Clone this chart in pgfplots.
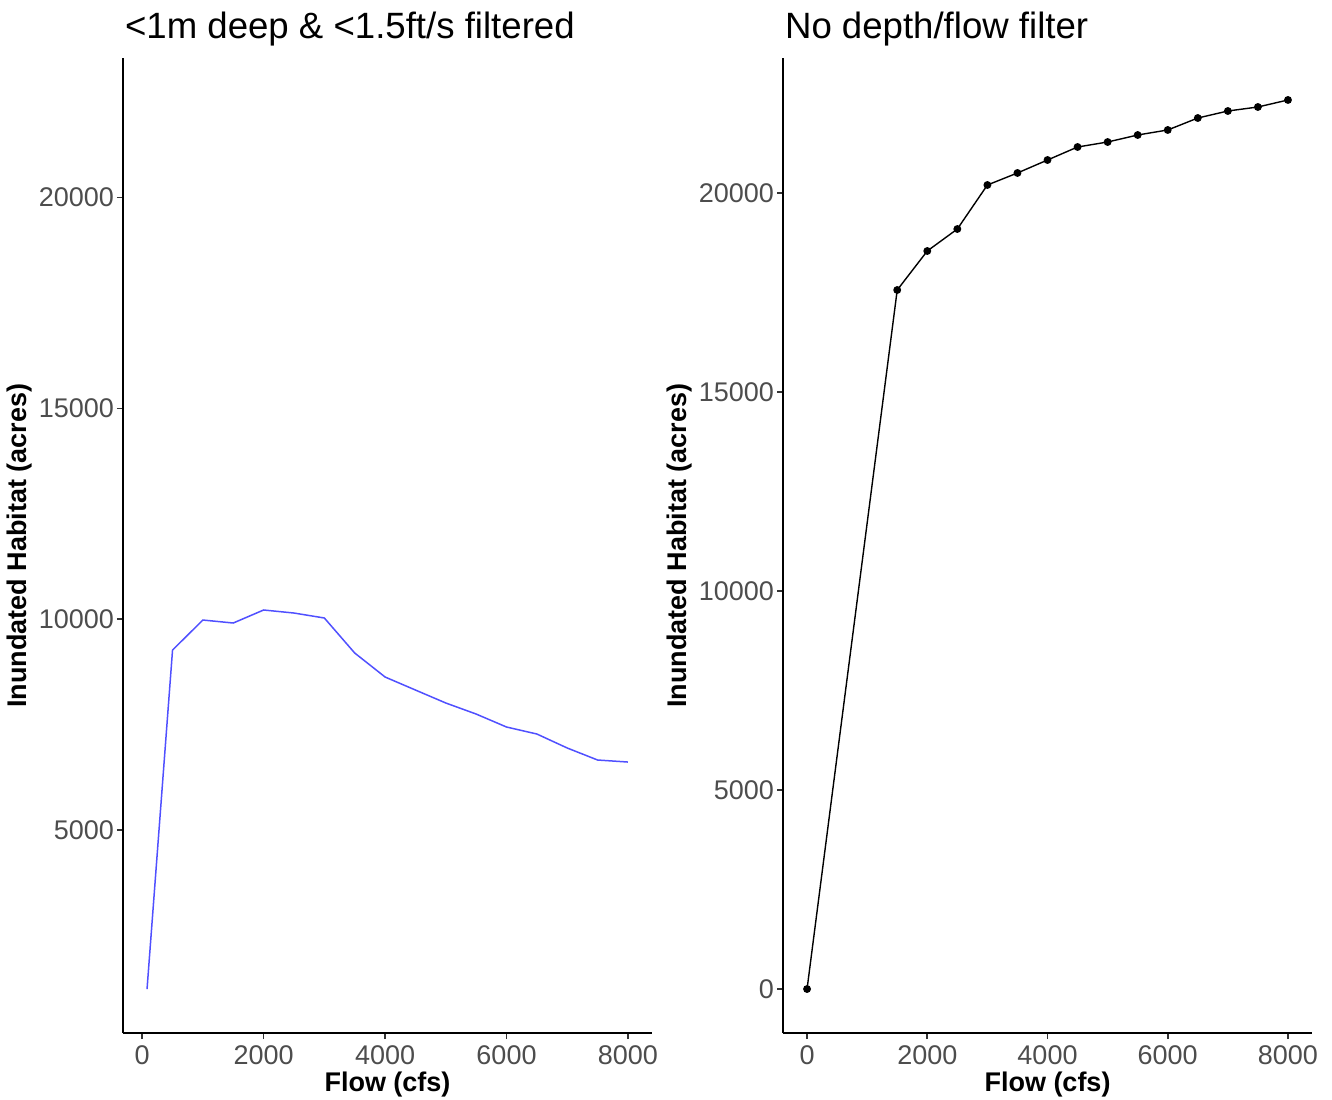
\documentclass[border=0pt]{standalone}
\usepackage{pgfplots}
\pgfplotsset{compat=1.18}
\usepackage{fontspec}
\setmainfont{Liberation Sans}
\definecolor{ticklab}{HTML}{4D4D4D}
\definecolor{tickcol}{HTML}{333333}
\definecolor{lineblue}{HTML}{5050FF}
\pgfplotsset{
  ggp/.style={
    scale only axis, width=264.5pt, height=487.5pt,
    anchor=south west,
    axis x line*=bottom, axis y line*=left,
    axis line style={black, line width=0.9pt, -},
    tick align=outside, major tick length=3pt,
    every tick/.style={tickcol, line width=0.8pt},
    tick label style={font=\fontsize{13.5}{16}\selectfont, text=ticklab},
    yticklabel style={xshift=2pt},
    /pgf/number format/assume math mode=true,
    /pgf/number format/1000 sep={},
    scaled ticks=false,
    xtick={0,2000,4000,6000,8000},
    label style={font=\bfseries\fontsize{13.5}{16}\selectfont},
    xlabel={Flow (cfs)}, ylabel={Inundated Habitat (acres)},
    xlabel style={at={(axis description cs:0.5,0)}, anchor=center, yshift=-26pt},
    ylabel style={at={(axis description cs:0,0.5)}, anchor=center, yshift=51.5pt},
    title style={at={(axis description cs:0,1)}, anchor=base west, yshift=3.5pt, xshift=-2.5pt, font=\fontsize{18.3}{22}\selectfont},
    clip=false,
  }
}
\begin{document}
\begin{tikzpicture}
\useasboundingbox (0,0) rectangle (666pt,549.5pt);
\begin{axis}[ggp, at={(61.5pt,33pt)},
  xmin=-316, xmax=8396, ymin=176, ymax=23313,
  ytick={5000,10000,15000,20000},
  title={<1m deep \& <1.5ft/s filtered}]
\addplot[lineblue, line width=0.75pt, mark=none] coordinates {
(80,1219) (500,9264) (1000,9976) (1500,9905) (2000,10214) (2500,10142)
(3000,10024) (3500,9193) (4000,8624) (4500,8315) (5000,8007) (5500,7745)
(6000,7437) (6500,7271) (7000,6939) (7500,6654) (8000,6606)};
\end{axis}
\begin{axis}[ggp, at={(391.5pt,33pt)},
  xmin=-400, xmax=8400, ymin=-1105, ymax=23392,
  ytick={0,5000,10000,15000,20000},
  title={No depth/flow filter}]
\addplot[black, line width=0.7pt, mark=*, mark size=1.6pt, mark options={fill=black}] coordinates {
(0,0) (1500,17563) (2000,18543) (2500,19095) (3000,20201) (3500,20503)
(4000,20829) (4500,21156) (5000,21281) (5500,21457) (6000,21583)
(6500,21884) (7000,22060) (7500,22161) (8000,22337)};
\end{axis}
\end{tikzpicture}
\end{document}
